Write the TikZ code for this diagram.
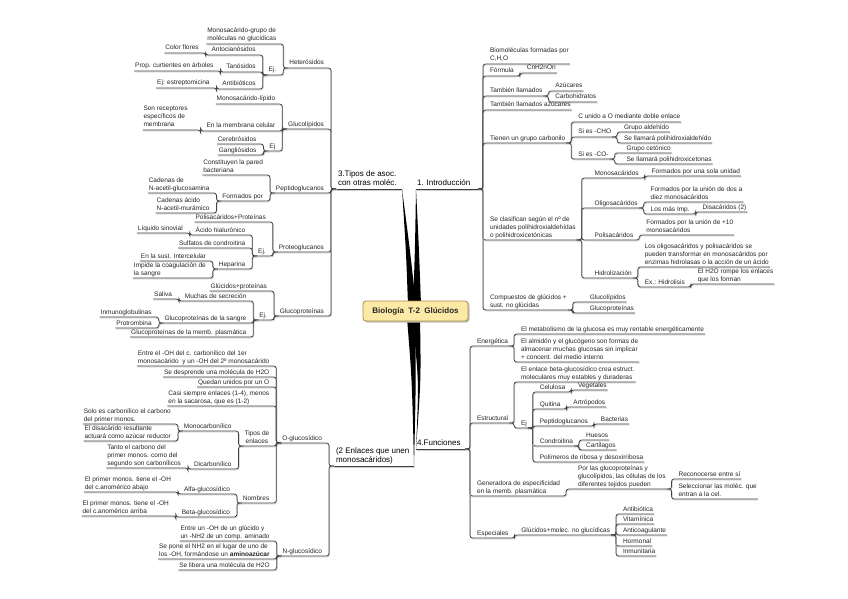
\documentclass[tikz,border=0pt]{standalone}
\usepackage{fontspec}
\setmainfont{Liberation Sans}
\usetikzlibrary{calc}
\definecolor{boxfill}{RGB}{252,233,166}
\definecolor{boxline}{RGB}{170,140,80}
\tikzset{
  lab/.style={font=\fontsize{6.5}{8}\selectfont, inner xsep=0.8pt, inner ysep=0.4pt, align=left, text=black!85, execute at end node=\strut},
  mainlab/.style={font=\fontsize{8}{9.5}\selectfont, inner xsep=0.8pt, inner ysep=0.4pt, align=left, text=black, execute at end node=\strut},
  conn/.style={draw=black!75, line width=0.75pt, rounded corners=2.5pt,
    preaction={draw=black!20, line width=0.75pt, transform canvas={shift={(0.6pt,-0.9pt)}}}},
  wedge/.style={fill=black},
}
% right-side child: [opts]{name}{parent point}{y of underline}{text}
\newcommand\RN[5][]{%
  \node[lab,anchor=south west,#1] (#2) at ($(#3 |- 0,#4)+(11,0)$) {#5};
  \draw[conn] (#3) -- ++(5,0) |- (#2.south east);}
% left-side child
\newcommand\LN[5][]{%
  \node[lab,anchor=south east,#1] (#2) at ($(#3 |- 0,#4)+(-11,0)$) {#5};
  \draw[conn] (#3) -- ++(-5,0) |- (#2.south west);}
\begin{document}
\begin{tikzpicture}[x=1pt,y=-1pt]
\useasboundingbox (0,0) rectangle (848,599);
\fill[white] (0,0) rectangle (848,599);

% main anchor points
\coordinate (tiposR) at (402,189);
\coordinate (tiposL) at (336,189);
\coordinate (introL) at (416,189);
\coordinate (introR) at (478,189);
\coordinate (funL) at (416,449);
\coordinate (funR) at (465,449);
\coordinate (enlR) at (414,466);
\coordinate (enlL) at (334,466);

% main topic nodes
\node[mainlab,anchor=south west] (tipos) at (337,189) {3.Tipos de asoc.\\con otras moléc.};
\node[mainlab,anchor=south west] (intro) at (416,189) {1. Introducción};
\node[mainlab,anchor=south west] (fun) at (416,449) {4.Funciones};
\node[mainlab,anchor=south west] (enl) at (335,466) {(2 Enlaces que unen\\monosacáridos)};
\draw[conn] (tiposL) -- (tiposR);
\draw[conn] (introL) -- (introR);
\draw[conn] (funL) -- (funR);
\draw[conn] (enlL) -- (enlR);

% central node and wedges
\fill[wedge] (tiposR) .. controls (406,250) .. (408,305) -- (416,305) .. controls (410,250) .. (tiposR);
\fill[wedge] (introL) .. controls (415,250) .. (413,305) -- (421,305) .. controls (419,250) .. (introL);
\fill[wedge] (funL) .. controls (419,380) .. (412,318) -- (420,318) .. controls (421,380) .. (funL);
\fill[wedge] (enlR) .. controls (412,380) .. (407,318) -- (415,318) .. controls (416,380) .. (enlR);
\fill[black!25, rounded corners=3pt] (364.5,302.5) rectangle (469.5,322.5);
\node[draw=boxline, fill=boxfill, line width=0.8pt, rounded corners=3pt, minimum width=105pt, minimum height=20pt, inner sep=0pt, font=\bfseries\fontsize{8}{9.5}\selectfont, text=black!85] (bio) at (415.5,311) {Biología\ \ T-2\ \ Glúcidos};

% ===== 1. Introduccion =====
\RN{i1}{introR}{64}{Biomoléculas formadas por\\C,H,O}
\RN{i2}{introR}{76}{Fórmula}
\RN{i2a}{i2.south east}{73}{CnH2nOn}
\RN{i3}{introR}{96}{También llamados}
\RN{i3a}{i3.south east}{91}{Azúcares}
\RN{i3b}{i3.south east}{102}{Carbohidratos}
\RN{i4}{introR}{110}{También llamados azúcares}
\RN{i5}{introR}{143}{Tienen un grupo carbonilo}
\RN{i5a}{i5.south east}{122}{C unido a O mediante doble enlace}
\RN{i5b}{i5.south east}{137}{Si es -CHO}
\RN{i5b1}{i5b.south east}{132}{Grupo aldehído}
\RN{i5b2}{i5b.south east}{143}{Se llamará polihidroxialdehído}
\RN{i5c}{i5.south east}{159}{Si es -CO-}
\RN[xshift=5pt]{i5c1}{i5c.south east}{153}{Grupo cetónico}
\RN[xshift=5pt]{i5c2}{i5c.south east}{164}{Se llamará polihidroxicetonas}
\RN{i6}{introR}{240}{Se clasifican según el nº de\\unidades polihidroxialdehídas\\o polihidroxicetónicas}
\RN[xshift=6pt]{i6a}{i6.south east}{178}{Monosacáridos}
\RN{i6a1}{i6a.south east}{176}{Formados por una sola unidad}
\RN[xshift=6pt]{i6b}{i6.south east}{208}{Oligosacáridos}
\RN{i6b1}{i6b.south east}{202}{Formados por la unión de dos a\\diez monosacáridos}
\RN{i6b2}{i6b.south east}{214}{Los más Imp.}
\RN{i6b21}{i6b2.south east}{212}{Disacáridos (2)}
\RN[xshift=6pt]{i6c}{i6.south east}{240}{Polisacáridos}
\RN{i6c1}{i6c.south east}{235}{Formados por la unión de +10\\monosacáridos}
\RN[xshift=6pt]{i6d}{i6.south east}{278}{Hidrolización}
\RN{i6d1}{i6d.south east}{267}{Los oligosacáridos y polisacáridos se\\pueden transformar en monosacáridos por\\enzimas hidrolasas o la acción de un ácido}
\RN{i6d2}{i6d.south east}{287}{Ex.: Hidrolisis}
\RN{i6d21}{i6d2.south east}{284}{El H2O rompe los enlaces\\que los forman}
\RN{i7}{introR}{310}{Compuestos de glúcidos +\\sust. no glúcidas}
\RN[xshift=10pt]{i7a}{i7.south east}{302}{Glucolípidos}
\RN[xshift=10pt]{i7b}{i7.south east}{313}{Glucoproteínas}

% ===== 3. Tipos de asoc. =====
\LN{t1}{tiposL}{68}{Heterósidos}
\LN{t1a}{t1.south west}{44}{Monosacárido-grupo de\\moléculas no glucídicas}
\LN{t1b}{t1.south west}{75}{Ej.}
\LN{t1b1}{t1b.south west}{55}{Antocianósidos}
\LN{t1b11}{t1b1.south west}{53}{Color flores}
\LN{t1b2}{t1b.south west}{72}{Tanósidos}
\LN{t1b21}{t1b2.south west}{71}{Prop. curtientes en árboles}
\LN{t1b3}{t1b.south west}{89}{Antibióticos}
\LN{t1b31}{t1b3.south west}{88}{Ej: estreptomicina}
\LN{t2}{tiposL}{129}{Glucolípidos}
\LN{t2a}{t2.south west}{104}{Monosacárido-lípido}
\LN{t2b}{t2.south west}{131}{En la membrana celular}
\LN[xshift=-6pt]{t2b1}{t2b.south west}{130}{Son receptores\\específicos de\\membrana}
\LN{t2c}{t2.south west}{151}{Ej}
\LN{t2c1}{t2c.south west}{144}{Cerebrósidos}
\LN{t2c2}{t2c.south west}{155}{Gangliósidos}
\LN{t3}{tiposL}{193}{Peptidoglucanos}
\LN{t3a}{t3.south west}{175}{Constituyen la pared\\bacteriana}
\LN{t3b}{t3.south west}{201}{Formados por}
\LN{t3b1}{t3b.south west}{193}{Cadenas de\\N-acetil-glucosamina}
\LN{t3b2}{t3b.south west}{213}{Cadenas ácido\\N-acetil-murámico}
\LN{t4}{tiposL}{252}{Proteoglucanos}
\LN{t4a}{t4.south west}{222}{Polisacáridos+Proteínas}
\LN{t4b}{t4.south west}{256}{Ej.}
\LN{t4b1}{t4b.south west}{235}{Ácido hialurónico}
\LN{t4b11}{t4b1.south west}{233}{Líquido sinovial}
\LN{t4b2}{t4b.south west}{248}{Sulfatos de condroitina}
\LN{t4b3}{t4b.south west}{269}{Heparina}
\LN{t4b31}{t4b3.south west}{261}{En la sust. Intercelular}
\LN{t4b32}{t4b3.south west}{278}{Impide la coagulación de\\la sangre}
\LN{t5}{tiposL}{316}{Glucoproteínas}
\LN{t5a}{t5.south west}{291}{Glúcidos+proteínas}
\LN{t5b}{t5.south west}{320}{Ej.}
\LN{t5b1}{t5b.south west}{301}{Muchas de secreción}
\LN{t5b11}{t5b1.south west}{299}{Saliva}
\LN{t5b2}{t5b.south west}{323}{Glucoproteínas de la sangre}
\LN{t5b21}{t5b2.south west}{317}{Inmunoglobulinas}
\LN{t5b22}{t5b2.south west}{328}{Protrombina}
\LN{t5b3}{t5b.south west}{337}{Glucoproteínas de la memb. plasmática}

% ===== (2 Enlaces que unen monosacaridos) =====
\LN{e1}{enlL}{443}{O-glucosídico}
\LN{e1a}{e1.south west}{366}{Entre el -OH del c. carbonílico del 1er\\monosacárido\ \ y un -OH del 2º monosacárido}
\LN{e1b}{e1.south west}{377}{Se desprende una molécula de H2O}
\LN{e1c}{e1.south west}{387}{Quedan unidos por un O}
\LN{e1d}{e1.south west}{406}{Casi siempre enlaces (1-4), menos\\en la sacarosa, que es (1-2)}
\LN[align=center]{e1e}{e1.south west}{446}{Tipos de\\enlaces}
\LN{e1e1}{e1e.south west}{431}{Monocarbonílico}
\LN{e1e11}{e1e1.south west}{424}{Solo es carbonílico el carbono\\del primer monos.}
\LN{e1e12}{e1e1.south west}{441}{El disacárido resultante\\actuará como azúcar reductor}
\LN{e1e2}{e1e.south west}{469}{Dicarbonílico}
\LN{e1e21}{e1e2.south west}{468}{Tanto el carbono del\\primer monos. como del\\segundo son carbonílicos}
\LN{e1f}{e1.south west}{503}{Nombres}
\LN{e1f1}{e1f.south west}{494}{Alfa-glucosídico}
\LN{e1f11}{e1f1.south west}{492}{El primer monos. tiene el -OH\\del c.anomérico abajo}
\LN{e1f2}{e1f.south west}{517}{Beta-glucosídico}
\LN{e1f21}{e1f2.south west}{516}{El primer monos. tiene el -OH\\del c.anomérico arriba}
\LN{e2}{enlL}{556}{N-glucosídico}
\LN{e2a}{e2.south west}{541}{Entre un -OH de un glúcido y\\un -NH2 de un comp. aminado}
\LN{e2b}{e2.south west}{559}{Se pone el NH2 en el lugar de uno de\\los -OH, formándose un \textbf{aminoazúcar}}
\LN{e2c}{e2.south west}{570}{Se libera una molécula de H2O}

% ===== 4. Funciones =====
\RN{f1}{funR}{346}{Energética}
\RN{f1a}{f1.south east}{334}{El metabolismo de la glucosa es muy rentable energéticamente}
\RN{f1b}{f1.south east}{362}{El almidón y el glucógeno son formas de\\almacenar muchas glucosas sin implicar\\+ concent. del medio interno}
\RN{f2}{funR}{423}{Estructural}
\RN{f2a}{f2.south east}{382}{El enlace beta-glucosídico crea estruct.\\moleculares muy estables y duraderas}
\RN{f2b}{f2.south east}{428}{Ej}
\RN{f2b1}{f2b.south east}{392}{Celulosa}
\RN{f2b11}{f2b1.south east}{390}{Vegetales}
\RN{f2b2}{f2b.south east}{409}{Quitina}
\RN{f2b21}{f2b2.south east}{407}{Artrópodos}
\RN{f2b3}{f2b.south east}{426}{Peptidoglucanos}
\RN{f2b31}{f2b3.south east}{424}{Bacterias}
\RN{f2b4}{f2b.south east}{446}{Condroitina}
\RN{f2b41}{f2b4.south east}{440}{Huesos}
\RN{f2b42}{f2b4.south east}{450}{Cartílagos}
\RN{f2b5}{f2b.south east}{462}{Polímeros de ribosa y desoxirribosa}
\RN{f3}{funR}{496}{Generadora de especificidad\\en la memb. plasmática}
\RN[xshift=5pt]{f3a}{f3.south east}{489}{Por las glucoproteínas y\\glucolípidos, las células de los\\diferentes tejidos pueden}
\RN{f3a1}{f3a.south east}{479}{Reconocerse entre sí}
\RN{f3a2}{f3a.south east}{499}{Seleccionar las moléc. que\\entran a la cel.}
\RN{f4}{funR}{538}{Especiales}
\RN{f4a}{f4.south east}{535}{Glúcidos+molec. no glucídicas}
\RN{f4a1}{f4a.south east}{514}{Antibiótica}
\RN{f4a2}{f4a.south east}{524}{Vitamínica}
\RN{f4a3}{f4a.south east}{535}{Anticoagulante}
\RN{f4a4}{f4a.south east}{546}{Hormonal}
\RN{f4a5}{f4a.south east}{556}{Inmunitaria}
\end{tikzpicture}
\end{document}
